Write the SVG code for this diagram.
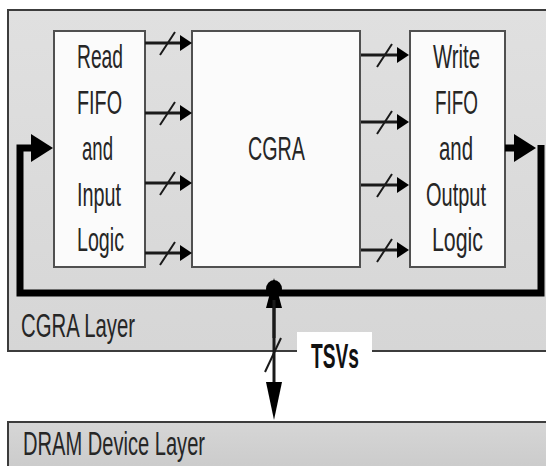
<svg xmlns="http://www.w3.org/2000/svg" width="546" height="466" viewBox="0 0 546 466">
<style>
  .layer { stroke: #3c3c3c; stroke-width: 2; }
  .box { fill: #fbfbfb; stroke: #505050; stroke-width: 2; }
  .t { font-family: "Liberation Sans", Arial, sans-serif; font-size: 34px; fill: #262626; }
  .tb { font-family: "Liberation Sans", Arial, sans-serif; font-size: 35px; font-weight: bold; fill: #111; }
  .sig { stroke: #1a1a1a; stroke-width: 3; fill: none; }
  .slash { stroke: #1a1a1a; stroke-width: 2; fill: none; }
  .bus { stroke: #000; stroke-width: 7; fill: none; stroke-linejoin: miter; }
</style>
<defs>
  <linearGradient id="gL" x1="0" y1="0" x2="0" y2="1">
    <stop offset="0" stop-color="#e0e0e0"/>
    <stop offset="1" stop-color="#d6d6d6"/>
  </linearGradient>
  <linearGradient id="gD" x1="0" y1="0" x2="0" y2="1">
    <stop offset="0" stop-color="#d6d6d6"/>
    <stop offset="1" stop-color="#c8c8c8"/>
  </linearGradient>
  <marker id="ah" markerUnits="userSpaceOnUse" markerWidth="13" markerHeight="17" refX="0" refY="8" orient="auto">
    <path d="M0,0 L12,8 L0,16 z" fill="#000"/>
  </marker>
  <marker id="bh" markerUnits="userSpaceOnUse" markerWidth="23" markerHeight="29" refX="0" refY="14" orient="auto">
    <path d="M0,0 L22,14 L0,28 z" fill="#000"/>
  </marker>
  <marker id="vh" markerUnits="userSpaceOnUse" markerWidth="40" markerHeight="17" refX="0" refY="8" orient="auto">
    <path d="M0,0 L38,8 L0,16 z" fill="#000"/>
  </marker>
  <marker id="vu" markerUnits="userSpaceOnUse" markerWidth="32" markerHeight="17" refX="0" refY="8" orient="auto">
    <path d="M0,0 L30,8 L0,16 z" fill="#000"/>
  </marker>
</defs>

<g id="cgra-layer">
  <rect x="8" y="10" width="560" height="341" fill="url(#gL)" class="layer"/>
  <text class="t" x="21" y="337" textLength="114" lengthAdjust="spacingAndGlyphs">CGRA Layer</text>
</g>

<g id="dram-layer">
  <rect x="8" y="422" width="560" height="60" fill="url(#gD)" class="layer"/>
  <text class="t" x="23" y="455" textLength="182" lengthAdjust="spacingAndGlyphs">DRAM Device Layer</text>
</g>

<g id="read-fifo">
  <rect x="54" y="31" width="91" height="236" class="box"/>
  <text class="t" x="77" y="68" textLength="46" lengthAdjust="spacingAndGlyphs">Read</text>
  <text class="t" x="77" y="114" textLength="45" lengthAdjust="spacingAndGlyphs">FIFO</text>
  <text class="t" x="82" y="160" textLength="31" lengthAdjust="spacingAndGlyphs">and</text>
  <text class="t" x="77" y="206" textLength="44" lengthAdjust="spacingAndGlyphs">Input</text>
  <text class="t" x="77" y="251" textLength="47" lengthAdjust="spacingAndGlyphs">Logic</text>
</g>

<g id="cgra">
  <rect x="192" y="31" width="168" height="236" class="box"/>
  <text class="t" x="248" y="160" textLength="57" lengthAdjust="spacingAndGlyphs">CGRA</text>
</g>

<g id="write-fifo">
  <rect x="410" y="31" width="95" height="236" class="box"/>
  <text class="t" x="433" y="68" textLength="47" lengthAdjust="spacingAndGlyphs">Write</text>
  <text class="t" x="435" y="114" textLength="43" lengthAdjust="spacingAndGlyphs">FIFO</text>
  <text class="t" x="439" y="160" textLength="34" lengthAdjust="spacingAndGlyphs">and</text>
  <text class="t" x="426" y="206" textLength="60" lengthAdjust="spacingAndGlyphs">Output</text>
  <text class="t" x="432" y="251" textLength="51" lengthAdjust="spacingAndGlyphs">Logic</text>
</g>

<g id="tsv-label">
  <rect x="297" y="332" width="75" height="21" fill="#ffffff"/>
  <text class="tb" x="311" y="368" textLength="48" lengthAdjust="spacingAndGlyphs">TSVs</text>
</g>

<g id="connectors">
  <!-- Read FIFO -> CGRA -->
  <path class="sig" d="M145,43 H180" marker-end="url(#ah)"/>
  <path class="sig" d="M145,113 H180" marker-end="url(#ah)"/>
  <path class="sig" d="M145,183 H180" marker-end="url(#ah)"/>
  <path class="sig" d="M145,253 H180" marker-end="url(#ah)"/>
  <path class="slash" d="M160,55 L175,32 M160,125 L175,102 M160,195 L175,172 M160,265 L175,242"/>
  <!-- CGRA -> Write FIFO -->
  <path class="sig" d="M361,55 H397" marker-end="url(#ah)"/>
  <path class="sig" d="M361,122 H397" marker-end="url(#ah)"/>
  <path class="sig" d="M361,185 H397" marker-end="url(#ah)"/>
  <path class="sig" d="M361,250 H397" marker-end="url(#ah)"/>
  <path class="slash" d="M377,67 L392,44 M377,134 L392,111 M377,197 L392,174 M377,262 L392,239"/>
  <!-- feedback bus -->
  <path class="bus" d="M505,148 H514" marker-end="url(#bh)"/>
  <path class="bus" d="M541,145 V293 H20 V148 H31" marker-end="url(#bh)"/>
  <ellipse cx="274" cy="289" rx="8" ry="9" fill="#000"/>
  <!-- TSV bidirectional -->
  <path class="sig" d="M274,338 V308" marker-end="url(#vu)" stroke="#000" stroke-width="4"/>
  <path class="sig" d="M274,300 V382" marker-end="url(#vh)" stroke="#000" stroke-width="4"/>
  <path class="slash" d="M265,372 L281,338"/>
</g>
</svg>
